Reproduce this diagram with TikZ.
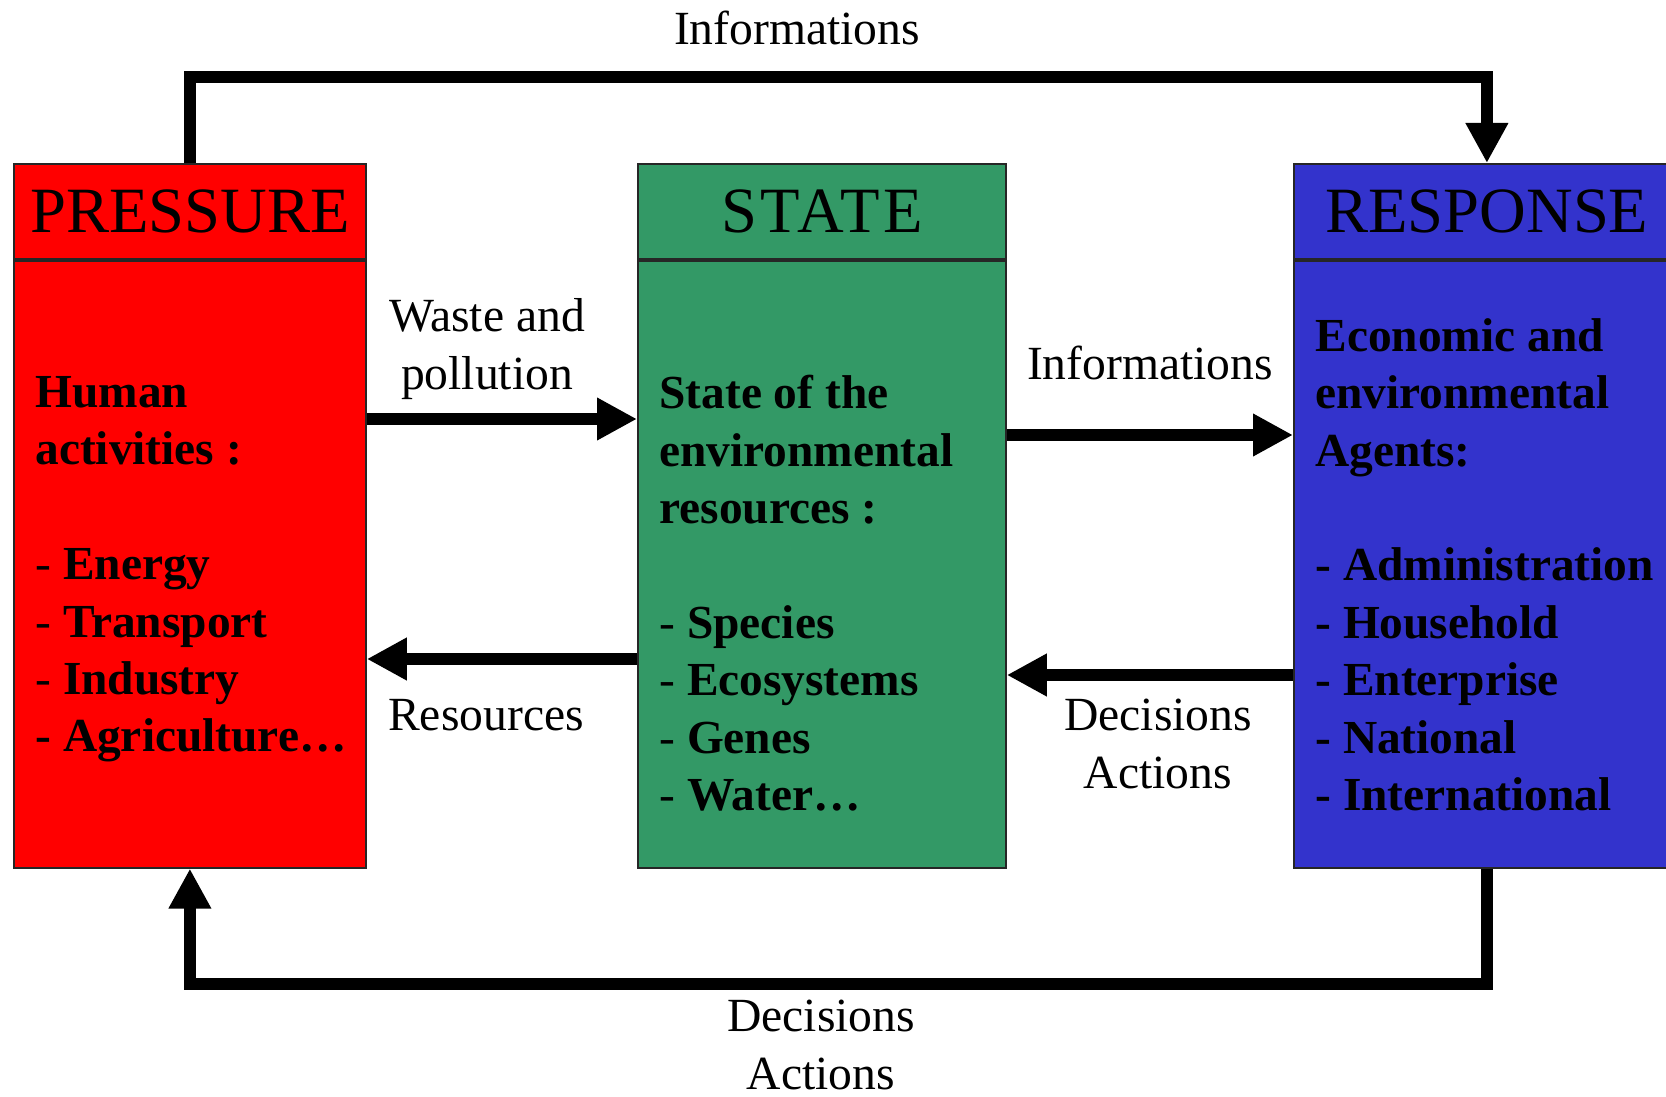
\documentclass[tikz,border=0pt]{standalone}
\usepackage{fontspec}
\setmainfont{Liberation Serif}
\usetikzlibrary{arrows.meta}

\definecolor{presred}{RGB}{255,0,0}
\definecolor{stategreen}{RGB}{51,153,102}
\definecolor{respblue}{RGB}{51,51,204}

\begin{document}
\begin{tikzpicture}[x=0.5pt,y=-0.5pt,
    headbox/.style={draw=black!85,line width=0.9pt,minimum height=47.5pt,inner sep=0pt,anchor=north west,
      font=\fontsize{32.3pt}{36pt}\selectfont},
    bodybox/.style={draw=black!85,line width=0.9pt,minimum height=303.5pt,inner sep=0pt,anchor=north west},
    boxtext/.style={anchor=north west,align=left,inner sep=0pt,
      font=\fontsize{23.7pt}{28.7pt}\selectfont\bfseries},
    flowlabel/.style={anchor=north,align=center,inner sep=0pt,
      font=\fontsize{23.8pt}{29pt}\selectfont},
    flow/.style={line width=6pt,-{Triangle[length=20pt,width=20pt]}}]

      \useasboundingbox (0,0) rectangle (1666,1097);
      \clip (0,0) rectangle (1666,1097);

      % the three boxes
      \node [headbox,fill=presred,minimum width=176pt] (preshead) at (13,163) {PRESSURE};
      \node [bodybox,fill=presred,minimum width=176pt] (presbody) at (preshead.south west) {};

      \node [headbox,fill=stategreen,minimum width=184pt] (statehead) at (637,163)
        {\addfontfeature{LetterSpace=5}STATE};
      \node [bodybox,fill=stategreen,minimum width=184pt] (statebody) at (statehead.south west) {};

      \node [headbox,fill=respblue,minimum width=193pt] (resphead) at (1293,163) {RESPONSE};
      \node [bodybox,fill=respblue,minimum width=193pt] (respbody) at (resphead.south west) {};

      % box contents
      \node [boxtext] (prestext) at (35,376) {Human\\ activities :\\ \mbox{}\\
        \textmd{-} Energy\\ \textmd{-} Transport\\ \textmd{-} Industry\\ - Agriculture…};
      \node [boxtext] (statetext) at (659,375) {State of the\\ environmental\\ resources :\\ \mbox{}\\
        \textmd{-} Species\\ \textmd{-} Ecosystems\\ \textmd{-} Genes\\ \textmd{-} Water…};
      \node [boxtext] (resptext) at (1315,318) {Economic and\\ environmental\\ Agents:\\ \mbox{}\\
        - Administration\\ - Household\\ - Enterprise\\ - National\\ - International};

      % heights of the side arrows
      \coordinate (wasteY) at (0,419);
      \coordinate (resY) at (0,659);
      \coordinate (infoY) at (0,435);
      \coordinate (decY) at (0,675);

      \draw [flow] (presbody.east |- wasteY) to (statebody.west |- wasteY);
      \draw [flow] (statebody.west |- resY) to (presbody.east |- resY);
      \draw [flow] (statebody.east |- infoY) to (respbody.west |- infoY);
      \draw [flow] (respbody.west |- decY) to (statebody.east |- decY);

      \draw [flow] (preshead.north) -- ++(0,-85.5) -| (resphead.north);
      \draw [flow] (respbody.south) -- ++(0,115) -| (presbody.south);

      % labels
      \node [flowlabel] (infotop) at (797,11) {Informations};
      \node [flowlabel] (wastelab) at (487,298) {Waste and\\ pollution};
      \node [flowlabel] (reslab) at (486,699) {Resources};
      \node [flowlabel] (infolab) at (1150,346) {Informations};
      \node [flowlabel] (declab) at (1158,699) {Decisions\\ Actions};
      \node [flowlabel] (decbot) at (821,1000) {Decisions\\ Actions};

    \end{tikzpicture}
\end{document}
